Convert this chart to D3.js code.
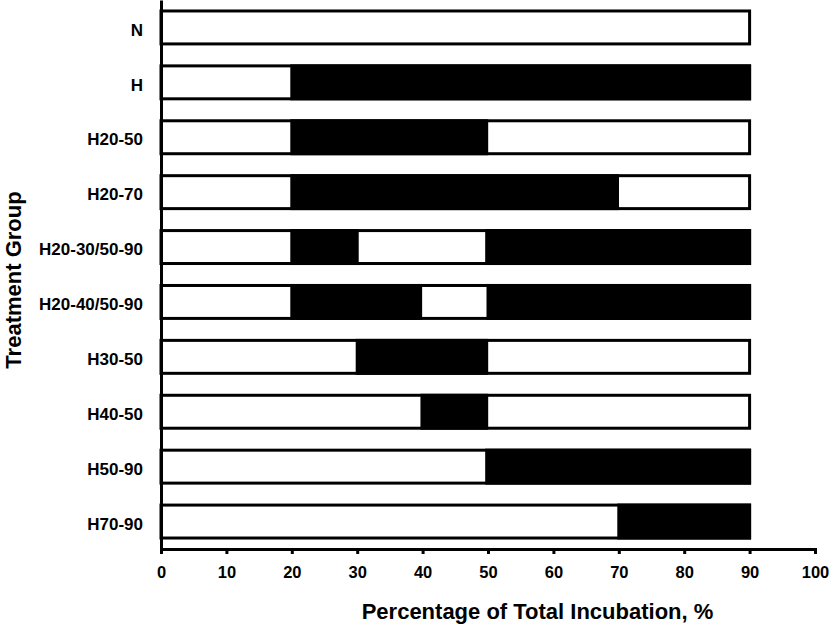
<!DOCTYPE html>
<html><head><meta charset="utf-8">
<script src="https://cdn.jsdelivr.net/npm/d3@7"></script>
<style>body{margin:0;background:#fff}svg{display:block}text{font-family:"Liberation Sans",Arial,sans-serif;font-weight:bold}</style>
</head><body>
<svg id="c" width="836" height="627"></svg>
<script>
const categories = ["N","H","H20-50","H20-70","H20-30/50-90","H20-40/50-90","H30-50","H40-50","H50-90","H70-90"];
const totalEnd = [90,90,90,90,90,90,90,90,90,90];
const black1Start = [null,20,20,20,20,20,30,39.9,49.8,70];
const black1End   = [null,90,49.8,69.8,30,39.7,49.8,49.8,90,90];
const black2Start = [null,null,null,null,49.8,50,null,null,null,null];
const black2End   = [null,null,null,null,90,90,null,null,null,null];
const xTicks = [0,10,20,30,40,50,60,70,80,90,100];

const svg = d3.select("#c");
const x = d3.scaleLinear().domain([0,100]).range([161,815]);
const y = d3.scaleBand().domain(categories).range([0,549]).paddingInner(0.4).paddingOuter(0.2);

const bars = categories.map((c,i)=>({c, end: totalEnd[i]}));
svg.append("g").selectAll("rect").data(bars).join("rect")
  .attr("x", x(0)).attr("y", d=>y(d.c))
  .attr("width", d=>x(d.end)-x(0)).attr("height", y.bandwidth())
  .attr("fill","#fff").attr("stroke","#000").attr("stroke-width",3);

const segs = [];
categories.forEach((c,i)=>{
  if(black1Start[i]!=null) segs.push({c, s:black1Start[i], e:black1End[i]});
  if(black2Start[i]!=null) segs.push({c, s:black2Start[i], e:black2End[i]});
});
svg.append("g").selectAll("rect").data(segs).join("rect")
  .attr("x", d=>x(d.s)).attr("y", d=>y(d.c))
  .attr("width", d=>x(d.e)-x(d.s)).attr("height", y.bandwidth())
  .attr("fill","#000").attr("stroke","#000").attr("stroke-width",3);

// x axis
const xa = svg.append("g").attr("transform","translate(0,549)")
  .call(d3.axisBottom(x).tickValues(xTicks).tickSize(5).tickSizeOuter(5).tickPadding(12));
xa.select(".domain").attr("stroke-width",3);
xa.selectAll(".tick line").attr("stroke-width",3);
xa.selectAll(".tick text").attr("font-size",16.5).attr("fill","#000")
  .attr("font-family",'"Liberation Sans",Arial,sans-serif').attr("font-weight","bold");

// y axis
const ya = svg.append("g").attr("transform","translate(161,0)")
  .call(d3.axisLeft(y).tickSize(0).tickPadding(18));
ya.select(".domain").attr("stroke-width",3);
ya.selectAll(".tick text").attr("font-size",17).attr("fill","#000").attr("dy","0.48em")
  .attr("font-family",'"Liberation Sans",Arial,sans-serif').attr("font-weight","bold");

svg.append("text").attr("x",537.5).attr("y",619).attr("text-anchor","middle")
  .attr("font-size",22).text("Percentage of Total Incubation, %");
svg.append("text").attr("transform","translate(21,280) rotate(-90)").attr("text-anchor","middle")
  .attr("font-size",22).text("Treatment Group");
</script>
</body></html>
